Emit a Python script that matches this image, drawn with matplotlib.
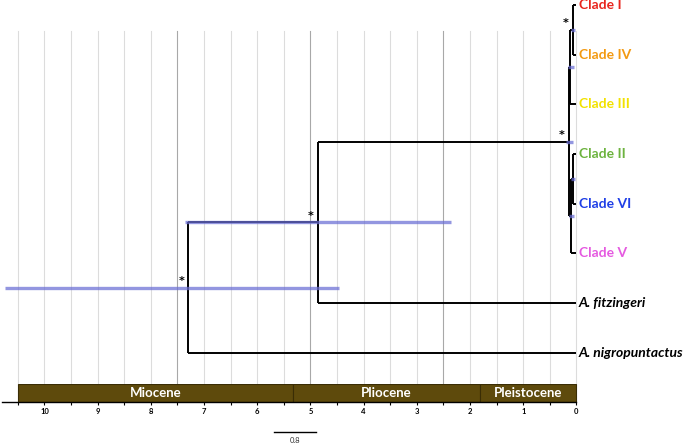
import numpy as np
import matplotlib.pyplot as plt

plt.rcParams['font.family'] = ['Lato', 'DejaVu Sans']

# tips, top to bottom
tip_names = ['Clade I', 'Clade IV', 'Clade III', 'Clade II', 'Clade VI', 'Clade V',
             'A. fitzingeri', 'A. nigropuntactus']
tip_colors = ['#e8261e', '#f39a12', '#f2e200', '#6db33f', '#1f3fe6', '#e55ae0',
              'black', 'black']
tip_italic = [False] * 6 + [True, True]

# internal nodes: age in Ma and children
node_names = ['I_IV', 'I_IV_III', 'II_VI', 'II_VI_V', 'ingroup', 'fitz', 'root']
node_ages = [0.065, 0.12, 0.065, 0.10, 0.14, 4.86, 7.30]
node_children = [[0, 1], ['I_IV', 2], [3, 4], ['II_VI', 5],
                 ['I_IV_III', 'II_VI_V'], ['ingroup', 6], ['fitz', 7]]
hpd_low = [0.03, 0.05, 0.03, 0.05, 0.06, 2.36, 4.46]
hpd_high = [0.10, 0.16, 0.10, 0.14, 0.20, 7.36, 10.74]
node_star = [True, False, False, False, True, True, True]

# geological timescale
epochs = ['Miocene', 'Pliocene', 'Pleistocene']
epoch_start = [10.5, 5.332, 1.806]
epoch_end = [5.332, 1.806, 0.0]
scale_len = 0.8
scale_left = 5.69

XLIM = (10.836, -2.04)

fig = plt.figure(figsize=(6.85, 4.44), dpi=100)
ax = fig.add_axes([0, 0, 1, 1])
ax.set_xlim(*XLIM)
ax.set_ylim(8.833, -0.1)
ax.axis('off')

# grid lines every 0.5 Ma, darker at 2.5 / 5 / 7.5
grid_t = np.arange(0, 10.51, 0.5)
for t in grid_t:
    dark = t in (2.5, 5.0, 7.5)
    ax.axvline(t, ymin=1 - 384 / 444, ymax=1 - 31 / 444,
               color='#a8a8a8' if dark else '#dcdcdc', lw=0.8, zorder=0)

# node positions
pos = {}
for i in range(len(tip_names)):
    pos[i] = (0.0, float(i))
for name, age, ch in zip(node_names, node_ages, node_children):
    ys = [pos[c][1] for c in ch]
    pos[name] = (age, np.mean(ys))

# branches
for name, ch in zip(node_names, node_children):
    x, y = pos[name]
    ys = [pos[c][1] for c in ch]
    ax.plot([x, x], [min(ys), max(ys)], color='black', lw=1.4, zorder=2,
            solid_capstyle='butt')
    for c in ch:
        cx, cy = pos[c]
        ax.plot([x, cx], [cy, cy], color='black', lw=1.4, zorder=2,
                solid_capstyle='butt')

# HPD bars + support stars
for name, lo, hi, star in zip(node_names, hpd_low, hpd_high, node_star):
    x, y = pos[name]
    ax.plot([hi, lo], [y, y], color='#6a6ed4', lw=2.4, alpha=0.72, zorder=3,
            solid_capstyle='butt')
    if star:
        ax.annotate('*', (x, y), xytext=(-5, 1), textcoords='offset points',
                    ha='center', va='bottom', fontsize=8, fontweight='bold',
                    family='DejaVu Sans', zorder=4)

# tip labels
for i, (lab, col, it) in enumerate(zip(tip_names, tip_colors, tip_italic)):
    ax.text(-0.04, i, lab, color=col, fontsize=10, fontweight='bold',
            style='italic' if it else 'normal', ha='left', va='center')

# scale bar
ax.plot([scale_left, scale_left - scale_len], [8.59, 8.59], color='black', lw=1.0)
ax.text(scale_left - scale_len / 2, 8.76, str(scale_len), ha='center', va='center',
        fontsize=5.5, color='#333333')

# timescale bar
tl = fig.add_axes([0, 1 - 402 / 444, 1, 18 / 444])
tl.set_xlim(*XLIM)
tl.set_ylim(0, 1)
tl.barh(0.5, [s - e for s, e in zip(epoch_start, epoch_end)], left=epoch_end,
        height=1, color='#5e4a0c', edgecolor='#3a2d05', lw=0.8)
for name, s, e in zip(epochs, epoch_start, epoch_end):
    tl.text((s + e) / 2, 0.5, name, color='white', fontsize=9.5, fontweight='bold',
            ha='center', va='center')
for sp in ['top', 'left', 'right']:
    tl.spines[sp].set_visible(False)
tl.spines['bottom'].set_bounds(0, 10.8)
tl.spines['bottom'].set_linewidth(1.0)
ticks = np.arange(0, 10.51, 0.5)
tl.set_xticks(ticks)
tl.set_xticklabels([str(int(t)) if t == int(t) else '' for t in ticks],
                   fontsize=5.5, fontweight='bold')
tl.tick_params(axis='x', direction='out', length=2.5, width=0.8, pad=1.5)
tl.set_yticks([])
tl.patch.set_visible(False)

fig.savefig('out.png', dpi=100)
